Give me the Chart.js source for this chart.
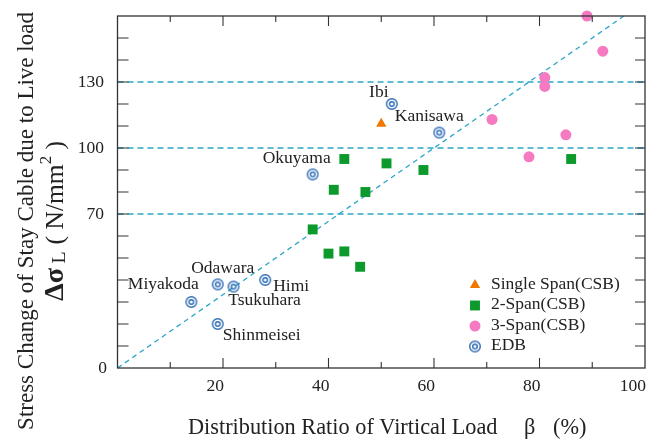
<!DOCTYPE html>
<html>
<head>
<meta charset="utf-8">
<script src="https://cdn.jsdelivr.net/npm/chart.js@4.4.0/dist/chart.umd.min.js"></script>
<style>
html,body{margin:0;padding:0;background:#fff}
#wrap{width:658px;height:442px;position:relative}
</style>
</head>
<body>
<div id="wrap"><canvas id="c"></canvas></div>
<script>
// data
var singleSpan = [{x:50,y:111}];
var twoSpan = [{x:37,y:63},{x:40,y:52},{x:43,y:53},{x:46,y:46},{x:41,y:81},{x:43,y:95},{x:47,y:80},{x:51,y:93},{x:58,y:90},{x:86,y:95}];
var threeSpan = [{x:89,y:160},{x:92,y:144},{x:81,y:132},{x:81,y:128},{x:71,y:113},{x:85,y:106},{x:78,y:96}];
var edb = [{x:37,y:88},{x:52,y:120},{x:61,y:107},{x:14,y:30},{x:19,y:38},{x:22,y:37},{x:28,y:40},{x:19,y:20}];
var edbNames = ["Okuyama","Ibi","Kanisawa","Miyakoda","Odawara","Tsukuhara","Himi","Shinmeisei"];
var trendLine = [{x:0,y:0},{x:96,y:160}];
var refLevels = [70,100,130];
var xTickLabels = [20,40,60,80,100];
var yTickLabels = [0,70,100,130];
var legendNames = ["Single Span(CSB)","2-Span(CSB)","3-Span(CSB)","EDB"];

// label placement (pixel offset of text centre from its point)
var nameOffsets = [[-16,-16],[-13,-12],[-10,-16],[-28,-18],[5,-16],[31,14],[26,6],[44,11]];

var FONT = '"Liberation Serif", "DejaVu Serif", serif';
var BLUE = "#2f6db5", DASH = "#2aa6c6";

function edbMarker(){
    var c = document.createElement("canvas");
    c.width = 14; c.height = 14;
    var g = c.getContext("2d");
    g.strokeStyle = BLUE; g.lineWidth = 1.4;
    g.beginPath(); g.arc(7,7,5.3,0,Math.PI*2); g.stroke();
    g.beginPath(); g.arc(7,7,2.3,0,Math.PI*2); g.stroke();
    return c;
}
var edbImg = edbMarker();

var refData = refLevels.map(function(v){ return [{x:0,y:v},{x:100,y:v}]; });

// unit label: pieces [text, font weight, size, baseline shift, gap after]
var unitParts = [["\u0394\u03c3","bold ",20,0,3],["L","",14,3,5],["( N/mm","",18,0,0],["2","",12,-7,0],[" )","",18,0,0]];

var decor = {
    id: "decor",
    afterDraw: function(chart){
        var ctx = chart.ctx, a = chart.chartArea;
        var xs = chart.scales.x, ys = chart.scales.y;
        ctx.save();
        // frame
        ctx.strokeStyle = "#333"; ctx.lineWidth = 1.3;
        ctx.strokeRect(a.left, a.top, a.right - a.left, a.bottom - a.top);
        // inward ticks
        ctx.lineWidth = 1.1;
        for (var v = 10; v < 100; v += 10){
            var px = xs.getPixelForValue(v), len = (v % 20 == 0) ? 10 : 6;
            ctx.beginPath();
            ctx.moveTo(px, a.bottom); ctx.lineTo(px, a.bottom - len);
            ctx.moveTo(px, a.top); ctx.lineTo(px, a.top + len);
            ctx.stroke();
        }
        for (var w = 10; w < 160; w += 10){
            var py = ys.getPixelForValue(w);
            ctx.beginPath();
            ctx.moveTo(a.left, py); ctx.lineTo(a.left + 11, py);
            ctx.moveTo(a.right, py); ctx.lineTo(a.right - 10, py);
            ctx.stroke();
        }
        // tick labels
        ctx.fillStyle = "#222";
        ctx.font = "17.5px " + FONT;
        ctx.textBaseline = "middle";
        ctx.textAlign = "right";
        xTickLabels.forEach(function(t){
            ctx.fillText(String(t), xs.getPixelForValue(t) + 1, a.bottom + 18);
        });
        yTickLabels.forEach(function(t){
            ctx.fillText(String(t), t == 0 ? 107 : 104, ys.getPixelForValue(t));
        });
        // point names
        ctx.textAlign = "center";
        edb.forEach(function(p, i){
            ctx.fillText(edbNames[i], xs.getPixelForValue(p.x) + nameOffsets[i][0], ys.getPixelForValue(p.y) + nameOffsets[i][1]);
        });
        // legend
        var styles = [
            {pointStyle:"triangle", radius:6, color:"#f07800"},
            {pointStyle:"rect", radius:7, color:"#0b9a2b"},
            {pointStyle:"circle", radius:5.5, color:"#f57ac2"},
            {pointStyle:edbImg, radius:6, color:BLUE}
        ];
        ctx.textAlign = "left";
        legendNames.forEach(function(n, i){
            var ly = 285 + i * 20.5;
            ctx.fillStyle = styles[i].color; ctx.strokeStyle = styles[i].color; ctx.lineWidth = 0;
            Chart.helpers.drawPoint(ctx, {pointStyle:styles[i].pointStyle, radius:styles[i].radius, rotation:0, borderWidth:0}, 475, ly);
            ctx.fillStyle = "#222";
            ctx.fillText(n, 491, ly - 1);
        });
        // x title
        ctx.font = "22.3px " + FONT;
        ctx.fillText("Distribution Ratio of Virtical Load", 188, 428);
        ctx.fillText("\u03b2", 524, 428);
        ctx.fillText("(%)", 553, 428);
        // y title, line 1
        ctx.save();
        ctx.translate(27, 221);
        ctx.rotate(-Math.PI/2);
        ctx.textAlign = "center";
        var t1 = "Stress Change of Stay Cable due to Live load";
        ctx.font = "19px " + FONT;
        var m = ctx.measureText(t1).width;
        ctx.font = (19 * 418 / m).toFixed(2) + "px " + FONT;
        ctx.fillText(t1, 0, 0);
        ctx.restore();
        // y title, line 2 (unit), centred on the same point
        var total = 0;
        unitParts.forEach(function(p){
            ctx.font = p[1] + p[2] + "px " + FONT;
            total += ctx.measureText(p[0]).width + p[4];
        });
        var k = 160 / total;
        ctx.save();
        ctx.translate(56, 221 + 80);
        ctx.rotate(-Math.PI/2);
        ctx.textAlign = "left";
        var xx = 0;
        unitParts.forEach(function(p){
            ctx.font = p[1] + (p[2] * k).toFixed(2) + "px " + FONT;
            ctx.fillText(p[0], xx, p[3] * k);
            xx += ctx.measureText(p[0]).width + p[4] * k;
        });
        ctx.restore();
        ctx.restore();
    }
};

var lineBase = {type:"line", borderColor:DASH, borderWidth:1.3, borderDash:[6,4], pointRadius:0, fill:false, showLine:true};

var datasets = [
    {label:"Single Span(CSB)", data:singleSpan, pointStyle:"triangle", pointRadius:6, backgroundColor:"#f07800", borderWidth:0, clip:false},
    {label:"2-Span(CSB)", data:twoSpan, pointStyle:"rect", pointRadius:7, backgroundColor:"#0b9a2b", borderWidth:0, clip:false},
    {label:"3-Span(CSB)", data:threeSpan, pointStyle:"circle", pointRadius:5.5, backgroundColor:"#f57ac2", borderWidth:0, clip:false},
    {label:"EDB", data:edb, pointStyle:edbImg, pointRadius:6, clip:false},
    Object.assign({}, lineBase, {label:"trend", data:trendLine, borderDash:[5,4]})
];
refData.forEach(function(d, i){
    datasets.push(Object.assign({}, lineBase, {label:"ref" + i, data:d}));
});

new Chart(document.getElementById("c"), {
    type: "scatter",
    data: { datasets: datasets },
    options: {
        responsive: true,
        maintainAspectRatio: false,
        animation: false,
        layout: { padding: { left: 117.5, right: 13, top: 16, bottom: 74 } },
        plugins: { legend: { display: false }, tooltip: { enabled: false } },
        scales: {
            x: { type: "linear", min: 0, max: 100, display: false },
            y: { type: "linear", min: 0, max: 160, display: false }
        }
    },
    plugins: [decor]
});
</script>
</body>
</html>
